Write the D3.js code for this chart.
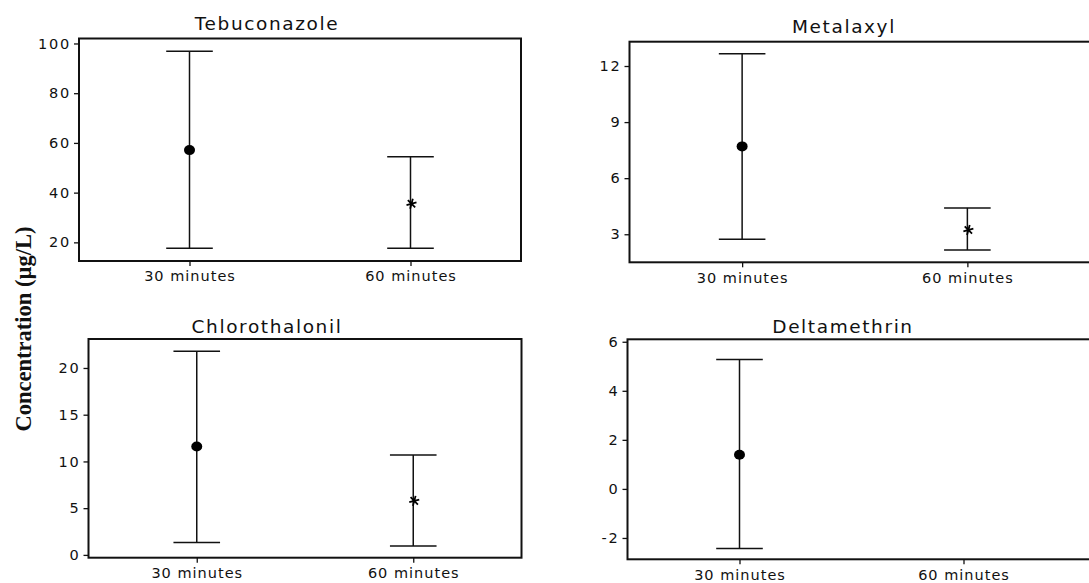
<!DOCTYPE html>
<html>
<head>
<meta charset="utf-8">
<script src="https://cdn.jsdelivr.net/npm/d3@7"></script>
<style>
  body { margin: 0; background: #fff; }
  .tick text { font-family: "DejaVu Sans", Verdana, sans-serif; font-size: 14.5px; fill: #111; letter-spacing: 1px; }
  .yaxis .tick text { letter-spacing: 1.8px; }
  .tick line { stroke: #111; stroke-width: 1.3; }
</style>
</head>
<body>
<script>
const width = 1089;
const height = 583;

// data
const compounds = ["Tebuconazole", "Metalaxyl", "Chlorothalonil", "Deltamethrin"];
const times = ["30 minutes", "60 minutes"];
const means = [[57.1, 35.5], [7.7, 3.23], [11.6, 5.78], [1.39, null]];
const upper = [[96.9, 54.4], [12.66, 4.41], [21.8, 10.7], [5.28, null]];
const lower = [[17.6, 17.6], [2.73, 2.16], [1.32, 0.96], [-2.43, null]];
const yTicks = [[20, 40, 60, 80, 100], [3, 6, 9, 12], [0, 5, 10, 15, 20], [-2, 0, 2, 4, 6]];
const yDomains = [[12.5, 102], [1.5, 13.3], [-0.3, 23.1], [-2.87, 6.1]];

// panel boxes: left, top, right (of the category range), bottom, frame right, title x, title baseline
const layout = [
  {x0: 79,    y0: 38.5,  x1: 521,    y1: 261,   fx1: 521,  tx: 267, ty: 30},
  {x0: 629.5, y0: 41.7,  x1: 1080,   y1: 262.3, fx1: 1100, tx: 844, ty: 33},
  {x0: 88.5,  y0: 339,   x1: 521.5,  y1: 557.7, fx1: 521.5, tx: 267, ty: 332.5},
  {x0: 627.5, y0: 339.3, x1: 1075.5, y1: 559.3, fx1: 1100, tx: 843, ty: 332.5}
];

const capHalf = 23.3;

const svg = d3.select('body')
  .append('svg')
  .attr('width', width)
  .attr('height', height);

compounds.forEach(function(name, i) {
  const L = layout[i];

  const x = d3.scalePoint()
    .domain(times)
    .range([L.x0, L.x1])
    .padding(0.5);

  const y = d3.scaleLinear()
    .domain(yDomains[i])
    .range([L.y1, L.y0]);

  const g = svg.append('g');

  // frame
  g.append('rect')
    .attr('x', L.x0)
    .attr('y', L.y0)
    .attr('width', L.fx1 - L.x0)
    .attr('height', L.y1 - L.y0)
    .attr('fill', 'none')
    .attr('stroke', '#111')
    .attr('stroke-width', 2);

  g.append('g')
    .attr('class', 'yaxis')
    .attr('transform', 'translate(' + L.x0 + ',0)')
    .call(d3.axisLeft(y).tickValues(yTicks[i]).tickFormat(d => String(d)).tickSize(5).tickPadding(3))
    .call(a => a.select('.domain').remove());

  g.append('g')
    .attr('transform', 'translate(0,' + L.y1 + ')')
    .call(d3.axisBottom(x).tickSize(5).tickPadding(5))
    .call(a => a.select('.domain').remove());

  g.append('text')
    .attr('x', L.tx)
    .attr('y', L.ty)
    .attr('text-anchor', 'middle')
    .style('font-family', '"DejaVu Sans", Verdana, sans-serif')
    .style('font-size', '18.5px')
    .style('letter-spacing', '1.6px')
    .style('fill', '#111')
    .text(name);

  const rows = times.map(function(t, j) {
    return {t: t, j: j, mean: means[i][j], hi: upper[i][j], lo: lower[i][j]};
  }).filter(d => d.mean !== null);

  // whiskers
  g.selectAll('.bar')
    .data(rows)
    .enter().append('line')
    .attr('x1', d => x(d.t)).attr('x2', d => x(d.t))
    .attr('y1', d => y(d.hi)).attr('y2', d => y(d.lo))
    .attr('stroke', '#111').attr('stroke-width', 1.5);

  ['hi', 'lo'].forEach(function(k) {
    g.selectAll('.cap-' + k)
      .data(rows)
      .enter().append('line')
      .attr('x1', d => x(d.t) - capHalf).attr('x2', d => x(d.t) + capHalf)
      .attr('y1', d => y(d[k])).attr('y2', d => y(d[k]))
      .attr('stroke', '#111').attr('stroke-width', 1.5);
  });

  // mean markers: dot at 30 min, asterisk at 60 min
  g.selectAll('.dot')
    .data(rows.filter(d => d.j === 0))
    .enter().append('ellipse')
    .attr('cx', d => x(d.t))
    .attr('cy', d => y(d.mean))
    .attr('rx', 5.5).attr('ry', 5)
    .attr('fill', '#000');

  g.selectAll('.star')
    .data(rows.filter(d => d.j === 1))
    .enter().append('path')
    .attr('transform', d => 'translate(' + (x(d.t) + 1) + ',' + y(d.mean) + ') rotate(15)')
    .attr('d', d3.symbol().type(d3.symbolAsterisk).size(75))
    .attr('fill', 'none')
    .attr('stroke', '#000')
    .attr('stroke-width', 1.8);
});

svg.append('text')
  .attr('transform', 'translate(31,329) rotate(-90)')
  .attr('text-anchor', 'middle')
  .style('font-family', '"Liberation Serif", "Times New Roman", serif')
  .style('font-weight', 'bold')
  .style('font-size', '22.5px')
  .style('fill', '#111')
  .text('Concentration (µg/L)');
</script>
</body>
</html>
